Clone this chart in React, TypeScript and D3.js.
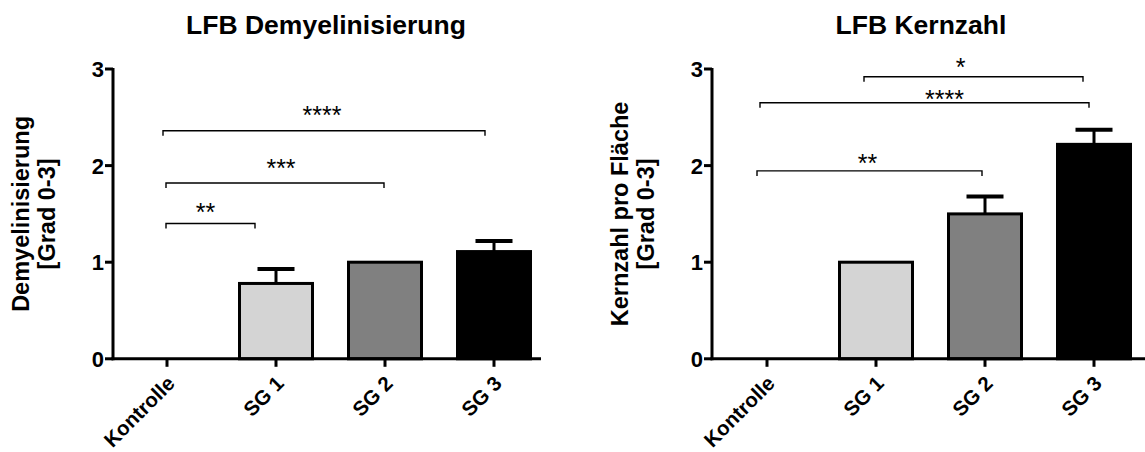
import React from "react";
import * as d3 from "d3";

// Groups shown on both panels
const categories = ["Kontrolle", "SG 1", "SG 2", "SG 3"];

// LFB demyelination score (mean, SEM)
const demyelMeans = [0, 0.78, 1.0, 1.11];
const demyelErrors = [0, 0.15, 0, 0.11];

// LFB nuclei count per area score (mean, SEM)
const kernMeans = [0, 1.0, 1.5, 2.22];
const kernErrors = [0, 0, 0.18, 0.15];

const yTicks = [0, 1, 2, 3];
const barFills = ["#ffffff", "#d4d4d4", "#808080", "#000000"];

// Significance brackets: group indices, height in data units, label
const demyelBrackets = [
  { from: 0, to: 1, level: 1.4, label: "**" },
  { from: 0, to: 2, level: 1.82, label: "***" },
  { from: 0, to: 3, level: 2.36, label: "****" },
];
const kernBrackets = [
  { from: 0, to: 2, level: 1.945, label: "**" },
  { from: 0, to: 3, level: 2.65, label: "****" },
  { from: 1, to: 3, level: 2.92, label: "*" },
];

// Pixel nudges for the bracket ends and star labels
const demyelBracketLayout = [
  { dx1: -1, dx2: -21, dLabel: -5, gap: 13 },
  { dx1: -1, dx2: -1, dLabel: 6, gap: 17 },
  { dx1: -4, dx2: -9, dLabel: -2, gap: 18 },
];
const kernBracketLayout = [
  { dx1: -10, dx2: -3, dLabel: -2, gap: 10 },
  { dx1: -7, dx2: -5, dLabel: 20, gap: 6 },
  { dx1: -12, dx2: -11, dLabel: -13, gap: 11 },
];

const FONT = "'Liberation Sans', Arial, Helvetica, sans-serif";

type Bracket = { from: number; to: number; level: number; label: string };
type BracketLayout = { dx1: number; dx2: number; dLabel: number; gap: number };

interface PanelProps {
  title: string;
  titleX: number;
  yLabel: string[];
  axisX: number;
  axisEnd: number;
  firstTick: number;
  lastTick: number;
  means: number[];
  errors: number[];
  brackets: Bracket[];
  layout: BracketLayout[];
}

function Panel(p: PanelProps) {
  const y = d3.scaleLinear().domain([0, 3]).range([358.8, 69]);
  const x = d3.scalePoint<string>().domain(categories).range([p.firstTick, p.lastTick]);
  const barW = 73;
  const y0 = y(0);
  const starSize = 25;

  return (
    <g>
      <text
        x={p.titleX}
        y={34}
        textAnchor="middle"
        fontFamily={FONT}
        fontWeight="bold"
        fontSize={26.5}
      >
        {p.title}
      </text>

      {/* y axis title, two lines */}
      {p.yLabel.map((line, i) => (
        <text
          key={line}
          transform={`translate(${p.axisX - 84 + i * 26},${(y(0) + y(3)) / 2}) rotate(-90)`}
          textAnchor="middle"
          fontFamily={FONT}
          fontWeight="bold"
          fontSize={23.5}
        >
          {line}
        </text>
      ))}

      {/* bars */}
      {categories.map((c, i) =>
        p.means[i] > 0 ? (
          <rect
            key={c}
            x={(x(c) as number) - barW / 2}
            y={y(p.means[i])}
            width={barW}
            height={y0 - y(p.means[i])}
            fill={barFills[i]}
            stroke="#000"
            strokeWidth={3}
          />
        ) : null
      )}

      {/* error bars (upper half) */}
      {categories.map((c, i) =>
        p.errors[i] > 0 ? (
          <g key={`e-${c}`} stroke="#000">
            <line
              x1={x(c)}
              x2={x(c)}
              y1={y(p.means[i])}
              y2={y(p.means[i] + p.errors[i])}
              strokeWidth={3}
            />
            <line
              x1={(x(c) as number) - 18.5}
              x2={(x(c) as number) + 18.5}
              y1={y(p.means[i] + p.errors[i])}
              y2={y(p.means[i] + p.errors[i])}
              strokeWidth={4}
            />
          </g>
        ) : null
      )}

      {/* y axis */}
      <line x1={p.axisX} x2={p.axisX} y1={y(3) - 1} y2={y0 + 1.5} stroke="#000" strokeWidth={3} />
      {yTicks.map((t) => (
        <g key={`yt-${t}`}>
          <line x1={p.axisX - 8} x2={p.axisX} y1={y(t)} y2={y(t)} stroke="#000" strokeWidth={3} />
          <text
            x={p.axisX - 9}
            y={y(t)}
            dy="0.36em"
            textAnchor="end"
            fontFamily={FONT}
            fontWeight="bold"
            fontSize={22}
          >
            {t}
          </text>
        </g>
      ))}

      {/* x axis */}
      <line x1={p.axisX - 1.5} x2={p.axisEnd} y1={y0} y2={y0} stroke="#000" strokeWidth={3} />
      {categories.map((c) => (
        <g key={`xt-${c}`}>
          <line x1={x(c)} x2={x(c)} y1={y0} y2={y0 + 8} stroke="#000" strokeWidth={3} />
          <text
            transform={`translate(${(x(c) as number) + 9},${y0 + 26}) rotate(-45)`}
            textAnchor="end"
            fontFamily={FONT}
            fontWeight="bold"
            fontSize={20.5}
          >
            {c}
          </text>
        </g>
      ))}

      {/* significance brackets */}
      {p.brackets.map((b, i) => {
        const L = p.layout[i];
        const x1 = (x(categories[b.from]) as number) + L.dx1;
        const x2 = (x(categories[b.to]) as number) + L.dx2;
        const by = y(b.level);
        return (
          <g key={`b-${i}`}>
            <path
              d={`M${x1},${by + 5}V${by}H${x2}V${by + 5}`}
              fill="none"
              stroke="#000"
              strokeWidth={1.4}
            />
            <text
              x={(x1 + x2) / 2 + L.dLabel}
              y={by - L.gap + 0.43 * starSize}
              textAnchor="middle"
              fontFamily={FONT}
              fontSize={starSize}
            >
              {b.label}
            </text>
          </g>
        );
      })}
    </g>
  );
}

export default function App() {
  return (
    <svg
      width={1145}
      height={452}
      viewBox="0 0 1145 452"
      style={{ position: "absolute", left: 0, top: 0, background: "#fff" }}
    >
      <Panel
        title="LFB Demyelinisierung"
        titleX={326}
        yLabel={["Demyelinisierung", "[Grad 0-3]"]}
        axisX={113}
        axisEnd={541}
        firstTick={167}
        lastTick={494}
        means={demyelMeans}
        errors={demyelErrors}
        brackets={demyelBrackets}
        layout={demyelBracketLayout}
      />
      <Panel
        title="LFB Kernzahl"
        titleX={921}
        yLabel={["Kernzahl pro Fläche", "[Grad 0-3]"]}
        axisX={712}
        axisEnd={1145}
        firstTick={767}
        lastTick={1094}
        means={kernMeans}
        errors={kernErrors}
        brackets={kernBrackets}
        layout={kernBracketLayout}
      />
    </svg>
  );
}
